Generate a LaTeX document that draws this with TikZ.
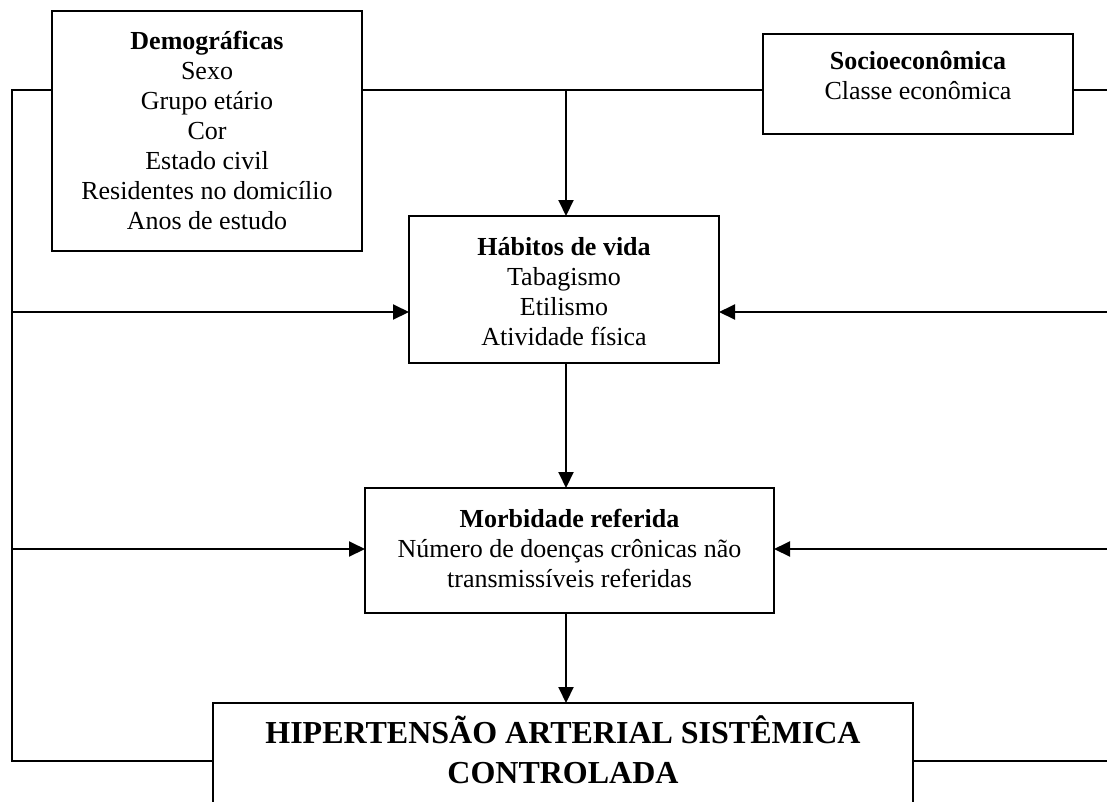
\documentclass[tikz,border=0pt]{standalone}
\usepackage{fontspec}
\setmainfont{Liberation Serif}
\usetikzlibrary{arrows.meta}
\begin{document}
\begin{tikzpicture}[x=1pt,y=-1pt,
  box/.style={draw,line width=2pt,inner sep=0pt,outer sep=0pt},
  txt/.style={align=center,inner sep=0pt,font=\fontsize{26}{30}\selectfont},
  big/.style={align=center,inner sep=0pt,font=\fontsize{32}{40}\selectfont\bfseries},
  ln/.style={line width=2pt},
  arr/.style={line width=2pt,-{Triangle[length=16pt,width=15pt]}}]
\useasboundingbox (0,0) rectangle (1107,801);
\clip (0,0) rectangle (1107,801);
% boxes
\node[box,minimum width=310pt,minimum height=240pt] (demog) at (207,131) {};
\node[box,minimum width=310pt,minimum height=100pt] (socio) at (918,84) {};
\node[box,minimum width=310pt,minimum height=147pt] (hab) at (564,289.5) {};
\node[box,minimum width=409pt,minimum height=125pt] (morb) at (569.5,550.5) {};
\node[box,minimum width=700pt,minimum height=197pt] (has) at (563,801.5) {};
% texts
\node[txt] (demogT) at (207,130) {\textbf{Demográficas}\\Sexo\\Grupo etário\\Cor\\Estado civil\\Residentes no domicílio\\Anos de estudo};
\node[txt] (socioT) at (918,75.5) {\textbf{Socioeconômica}\\Classe econômica};
\node[txt] (habT) at (564,292) {\textbf{Hábitos de vida}\\Tabagismo\\Etilismo\\Atividade física};
\node[txt] (morbT) at (569.5,548) {\textbf{Morbidade referida}\\Número de doenças crônicas não\\transmissíveis referidas};
\node[big] (hasT) at (563,749.5) {HIPERTENSÃO ARTERIAL SISTÊMICA\\CONTROLADA};
% coordinates
\coordinate (L90) at (12,90);
\coordinate (R90) at (1107,90);
\coordinate (J) at (566,90);
\coordinate (L312) at (12,312);
\coordinate (R312) at (1107,312);
\coordinate (L549) at (12,549);
\coordinate (R549) at (1107,549);
\coordinate (L761) at (12,761);
\coordinate (R761) at (1107,761);
\coordinate (X) at (566,0);
% connectors
\draw[ln] (demog.east |- L90) -- (socio.west |- L90);
\draw[ln] (socio.east |- R90) -- (R90);
\draw[ln] (demog.west |- L90) -- (L90) -- (L761) -- (has.west |- L761);
\draw[ln] (has.east |- R761) -- (R761);
\draw[arr] (J) -- (J |- hab.north);
\draw[arr] (L312) -- (hab.west |- L312);
\draw[arr] (R312) -- (hab.east |- R312);
\draw[arr] (L549) -- (morb.west |- L549);
\draw[arr] (R549) -- (morb.east |- R549);
\draw[arr] (X |- hab.south) -- (X |- morb.north);
\draw[arr] (X |- morb.south) -- (X |- has.north);
\end{tikzpicture}
\end{document}
